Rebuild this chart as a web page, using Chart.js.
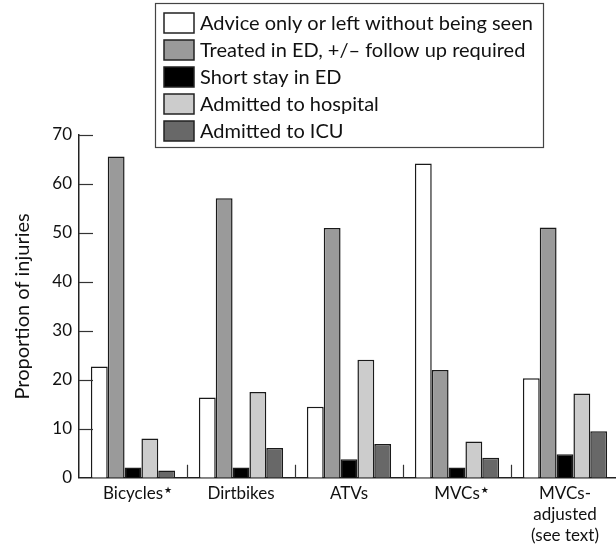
<!DOCTYPE html>
<html>
<head>
<meta charset="utf-8">
<script src="https://cdn.jsdelivr.net/npm/chart.js@4/dist/chart.umd.min.js"></script>
<style>
  html, body { margin: 0; padding: 0; background: #fff; overflow: hidden; }
  #wrap { width: 622px; height: 545px; }
</style>
</head>
<body>
<div id="wrap"><canvas id="chart"></canvas></div>
<script>
// data
var categories = ["Bicycles\u2605", "Dirtbikes", "ATVs", "MVCs\u2605", ["MVCs-", "adjusted", "(see text)"]];
var seriesNames = [
  "Advice only or left without being seen",
  "Treated in ED, +/\u2013 follow up required",
  "Short stay in ED",
  "Admitted to hospital",
  "Admitted to ICU"
];
var adviceOnly   = [22.7, 16.4, 14.5, 64.2, 20.3];
var treatedED    = [65.6, 57.1, 51.0, 22.0, 51.1];
var shortStay    = [2.1, 2.1, 3.8, 2.1, 4.8];
var admittedHosp = [8.0, 17.5, 24.1, 7.4, 17.2];
var admittedICU  = [1.5, 6.1, 6.9, 4.1, 9.5];
var yTicks = [0, 10, 20, 30, 40, 50, 60, 70];

var fills = ["#ffffff", "#9a9a9a", "#000000", "#cccccc", "#686868"];
var FONT = "Lato";
var STAR = "\u2605";
var xFont = { family: FONT, size: 17, lineHeight: 1.24 };

var values = [adviceOnly, treatedED, shortStay, admittedHosp, admittedICU];
var datasets = values.map(function (v, i) {
  return {
    label: seriesNames[i],
    data: v,
    backgroundColor: fills[i],
    borderColor: "#1a1a1a",
    borderWidth: 1.5,
    borderSkipped: "bottom"
  };
});

// inward y ticks, category separators, small superscript stars and the boxed legend
var extras = {
  id: "extras",
  afterDraw: function (chart) {
    var ctx = chart.ctx, area = chart.chartArea;
    var y = chart.scales.y, x = chart.scales.x;
    ctx.save();
    ctx.strokeStyle = "#333";
    ctx.lineWidth = 1.2;
    yTicks.forEach(function (t) {
      if (t === 0) return;
      var py = Math.round(y.getPixelForValue(t)) + 0.5;
      ctx.beginPath();
      ctx.moveTo(area.left, py);
      ctx.lineTo(area.left + 14, py);
      ctx.stroke();
    });
    for (var i = 1; i < categories.length; i++) {
      var px = Math.round((x.getPixelForValue(i - 1) + x.getPixelForValue(i)) / 2) + 0.5;
      ctx.beginPath();
      ctx.moveTo(px, area.bottom);
      ctx.lineTo(px, area.bottom - 13);
      ctx.stroke();
    }

    // superscript stars after starred labels
    categories.forEach(function (c, i) {
      if (typeof c !== "string" || c.indexOf(STAR) < 0) return;
      ctx.font = xFont.size + "px " + FONT;
      var w = ctx.measureText(c.replace(STAR, "")).width;
      var cx = x.getPixelForValue(i);
      ctx.font = "9px DejaVu Sans";
      ctx.fillStyle = "#111";
      ctx.textBaseline = "top";
      ctx.textAlign = "left";
      ctx.fillText(STAR, cx + w / 2 + 1, area.bottom + 8);
    });

    // legend
    var lx = 155, ly = 3, lw = 388, lh = 144;
    ctx.fillStyle = "#fff";
    ctx.fillRect(lx, ly, lw, lh);
    ctx.strokeStyle = "#444";
    ctx.lineWidth = 1.2;
    ctx.strokeRect(lx + 0.5, ly + 0.5, lw, lh);
    ctx.font = "20px " + FONT;
    ctx.textBaseline = "middle";
    ctx.textAlign = "left";
    chart.data.datasets.forEach(function (ds, i) {
      var ry = 13 + i * 27;
      ctx.fillStyle = ds.backgroundColor;
      ctx.fillRect(164, ry, 30, 20);
      ctx.strokeStyle = "#222";
      ctx.lineWidth = 1.5;
      ctx.strokeRect(164, ry, 30, 20);
      ctx.fillStyle = "#111";
      ctx.fillText(ds.label, 200, ry + 11);
    });
    ctx.restore();
  }
};

new Chart(document.getElementById("chart"), {
  type: "bar",
  data: { labels: categories, datasets: datasets },
  options: {
    responsive: true,
    maintainAspectRatio: false,
    animation: false,
    layout: { padding: { top: 135, right: 3, left: 0, bottom: -6 } },
    plugins: {
      legend: { display: false },
      tooltip: { enabled: false }
    },
    datasets: { bar: { categoryPercentage: 0.78, barPercentage: 1.0 } },
    scales: {
      x: {
        grid: { display: false, drawTicks: false },
        border: { display: true, color: "#222", width: 1.5 },
        ticks: {
          color: "#111",
          font: xFont,
          padding: 5,
          maxRotation: 0,
          autoSkip: false,
          callback: function (v, i) {
            var c = categories[i];
            return typeof c === "string" ? c.replace(STAR, "") : c;
          }
        }
      },
      y: {
        min: 0,
        max: 70,
        afterFit: function (s) { s.width = 79; },
        afterBuildTicks: function (s) { s.ticks = yTicks.map(function (v) { return { value: v }; }); },
        grid: { display: false, drawTicks: false },
        border: { display: true, color: "#222", width: 1.5 },
        ticks: {
          color: "#111",
          font: { family: FONT, size: 17 },
          padding: 7
        },
        title: {
          display: true,
          text: "Proportion of injuries",
          color: "#111",
          font: { family: FONT, size: 20 },
          padding: { top: 11, bottom: 0 }
        }
      }
    }
  },
  plugins: [extras]
});
</script>
</body>
</html>
